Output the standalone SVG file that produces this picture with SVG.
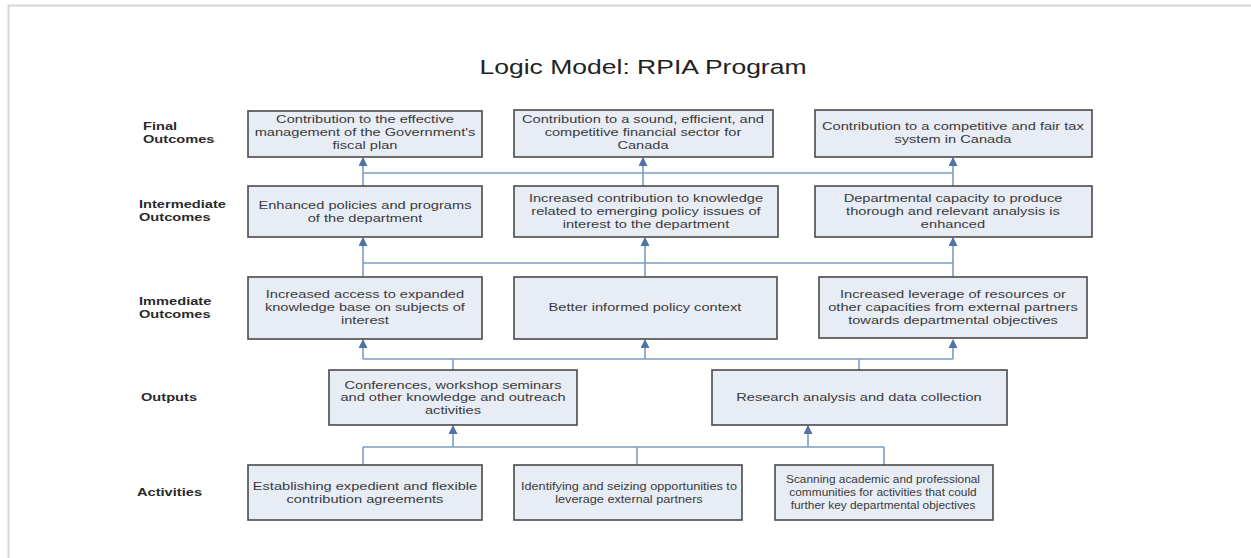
<svg xmlns="http://www.w3.org/2000/svg" width="1251" height="558" viewBox="0 0 1251 558">
<defs>
<style>
.bg{fill:#ffffff}
.frame{stroke:#d6d6d6;stroke-width:2;fill:none}
.box{fill:#e7ecf5;stroke:#4a4a4a;stroke-width:1.6}
.t{font-family:"Liberation Sans",Arial,sans-serif;font-size:11px;fill:#3a3a3a;text-anchor:middle;transform-box:fill-box;transform-origin:center;transform:scaleX(1.33)}
.t2{transform:scaleX(1.155)}
.t3{transform:scaleX(1.08)}
.lbl{font-family:"Liberation Sans",Arial,sans-serif;font-size:11px;font-weight:bold;fill:#2a2a2a;transform-box:fill-box;transform-origin:left center;transform:scaleX(1.33)}
.title{font-family:"Liberation Sans",Arial,sans-serif;font-size:19.5px;fill:#222;text-anchor:middle;transform-box:fill-box;transform-origin:center;transform:scaleX(1.36)}
.c{stroke:#7d9bc0;stroke-width:1.6;fill:none}
.a{stroke:#7d9bc0;stroke-width:1.6;fill:none;marker-end:url(#ah)}
</style>
<marker id="ah" markerUnits="userSpaceOnUse" markerWidth="9" markerHeight="9" refX="8" refY="4.5" orient="auto">
<path d="M0,0 L9,4.5 L0,9 z" fill="#4f73a8"/>
</marker>
</defs>
<rect class="bg" x="0" y="0" width="1251" height="558"/>
<path class="frame" d="M8.5,558 V5.5 H1251"/>
<text class="title" x="643" y="74">Logic Model: RPIA Program</text>

<g id="labels">
<text class="lbl" x="143" y="130">Final<tspan x="143" y="143">Outcomes</tspan></text>
<text class="lbl" x="139" y="208">Intermediate<tspan x="139" y="221">Outcomes</tspan></text>
<text class="lbl" x="139" y="305">Immediate<tspan x="139" y="318">Outcomes</tspan></text>
<text class="lbl" x="141" y="401">Outputs</text>
<text class="lbl" x="137" y="496">Activities</text>
</g>

<g id="connectors">
<path class="c" d="M363,173 H953"/>
<path class="a" d="M363,186 V158"/>
<path class="a" d="M643,186 V158"/>
<path class="a" d="M953,186 V158"/>

<path class="c" d="M363,263 H953"/>
<path class="c" d="M363,277 V263"/>
<path class="c" d="M645,277 V263"/>
<path class="c" d="M953,277 V263"/>
<path class="a" d="M363,263 V238"/>
<path class="a" d="M645,263 V238"/>
<path class="a" d="M953,263 V238"/>

<path class="c" d="M363,359 H953"/>
<path class="c" d="M453,370 V359"/>
<path class="c" d="M859,370 V359"/>
<path class="a" d="M363,359 V340"/>
<path class="a" d="M645,359 V340"/>
<path class="a" d="M953,359 V340"/>

<path class="c" d="M363,447 H884"/>
<path class="c" d="M363,465 V447"/>
<path class="c" d="M637,465 V447"/>
<path class="c" d="M884,465 V447"/>
<path class="a" d="M453,447 V426"/>
<path class="a" d="M808,447 V426"/>
</g>

<g id="final1"><rect class="box" x="248" y="111" width="234" height="46"/>
<text class="t" x="365" y="123">Contribution to the effective<tspan x="365" y="136">management of the Government's</tspan><tspan x="365" y="149">fiscal plan</tspan></text></g>
<g id="final2"><rect class="box" x="514" y="110" width="259" height="47"/>
<text class="t" x="643" y="123">Contribution to a sound, efficient, and<tspan x="643" y="136">competitive financial sector for</tspan><tspan x="643" y="149">Canada</tspan></text></g>
<g id="final3"><rect class="box" x="815" y="110" width="277" height="47"/>
<text class="t" x="953" y="130">Contribution to a competitive and fair tax<tspan x="953" y="143">system in Canada</tspan></text></g>

<g id="inter1"><rect class="box" x="248" y="186" width="234" height="51"/>
<text class="t" x="365" y="209">Enhanced policies and programs<tspan x="365" y="222">of the department</tspan></text></g>
<g id="inter2"><rect class="box" x="514" y="186" width="264" height="51"/>
<text class="t" x="646" y="202">Increased contribution to knowledge<tspan x="646" y="215">related to emerging policy issues of</tspan><tspan x="646" y="228">interest to the department</tspan></text></g>
<g id="inter3"><rect class="box" x="815" y="186" width="277" height="51"/>
<text class="t" x="953" y="202">Departmental capacity to produce<tspan x="953" y="215">thorough and relevant analysis is</tspan><tspan x="953" y="228">enhanced</tspan></text></g>

<g id="imm1"><rect class="box" x="248" y="277" width="234" height="62"/>
<text class="t" x="365" y="298">Increased access to expanded<tspan x="365" y="311">knowledge base on subjects of</tspan><tspan x="365" y="324">interest</tspan></text></g>
<g id="imm2"><rect class="box" x="514" y="277" width="263" height="62"/>
<text class="t" x="645" y="311">Better informed policy context</text></g>
<g id="imm3"><rect class="box" x="819" y="277" width="268" height="61"/>
<text class="t" x="953" y="298">Increased leverage of resources or<tspan x="953" y="311">other capacities from external partners</tspan><tspan x="953" y="324">towards departmental objectives</tspan></text></g>

<g id="out1"><rect class="box" x="329" y="370" width="248" height="55"/>
<text class="t" x="453" y="389">Conferences, workshop seminars<tspan x="453" y="401.5">and other knowledge and outreach</tspan><tspan x="453" y="414">activities</tspan></text></g>
<g id="out2"><rect class="box" x="712" y="370" width="295" height="55"/>
<text class="t" x="859" y="401">Research analysis and data collection</text></g>

<g id="act1"><rect class="box" x="248" y="465" width="234" height="55"/>
<text class="t" x="365" y="490">Establishing expedient and flexible<tspan x="365" y="503">contribution agreements</tspan></text></g>
<g id="act2"><rect class="box" x="514" y="465" width="228" height="55"/>
<text class="t t2" x="629" y="490">Identifying and seizing opportunities to<tspan x="629" y="503">leverage external partners</tspan></text></g>
<g id="act3"><rect class="box" x="775" y="465" width="218" height="55"/>
<text class="t t3" x="883" y="483">Scanning academic and professional<tspan x="883" y="496">communities for activities that could</tspan><tspan x="883" y="509">further key departmental objectives</tspan></text></g>
</svg>
